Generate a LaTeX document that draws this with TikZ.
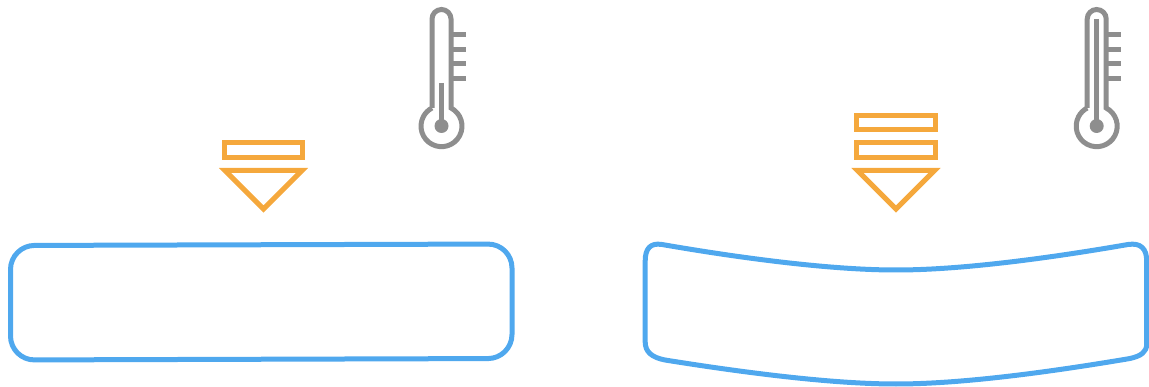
\documentclass[tikz,border=0pt]{standalone}
\usepackage{xcolor}
\usepackage{tikz}

\definecolor{plateblue}{HTML}{4FA8EE}
\definecolor{heatorange}{HTML}{F5A83C}
\definecolor{thermogray}{HTML}{8E8E8E}

\begin{document}
\begin{tikzpicture}[
    x=1pt, y=-1pt,
    plate/.style={draw=plateblue, line width=5pt, line join=round},
    heat/.style={draw=heatorange, line width=5pt, line join=miter},
    thermo/.style={draw=thermogray, line width=5pt},
    thermo/.pic={
      \draw[thermo] (-9.5,108) -- (-9.5,19) arc[start angle=180, end angle=360, radius=9.5] -- (9.5,108)
        arc[start angle=-62.4, end angle=242.4, radius=20.5];
      \foreach \y in {34.5,49.5,64,78.5}
        \draw[thermo] (11,\y) -- (24,\y);
      \fill[thermogray] (0,126) circle (7);
    }
  ]
    \useasboundingbox (0,0) rectangle (1149,387);

    % flat plate
    \draw[plate, rounded corners=24pt] (10.5,245.5) -- (512,244) -- (512,358.5) -- (10.5,360) -- cycle;
    \draw[heat] (224,143) rectangle (302.5,157.5);
    \draw[heat] (225,170.5) -- (302,170.5) -- (263.5,209) -- cycle;
    \pic at (441.5,0) {thermo};
    \draw[thermo] (441.5,83) -- (441.5,126);

    % bent plate
    \draw[plate] (645.2,261) .. controls (645.2,249) and (650,242.5) .. (662,244.5)
      .. controls (740,258) and (830,270) .. (896,270)
      .. controls (962,270) and (1050,258) .. (1128,244.5)
      .. controls (1141,242.5) and (1146.7,249) .. (1146.7,261)
      -- (1146.7,344)
      .. controls (1146.7,352) and (1141,356) .. (1130,358.5)
      .. controls (1050,372) and (962,384) .. (896,384)
      .. controls (830,384) and (740,372) .. (665,360)
      .. controls (652,357.5) and (645.2,352) .. (645.2,342)
      -- cycle;
    \draw[heat] (856.8,116) rectangle (935.3,130);
    \draw[heat] (856.8,143) rectangle (935.3,157.5);
    \draw[heat] (857.5,170.5) -- (934.5,170.5) -- (896,209) -- cycle;
    \pic at (1096.7,0) {thermo};
    \draw[thermo] (1096.7,19) -- (1096.7,126);
\end{tikzpicture}
\end{document}
